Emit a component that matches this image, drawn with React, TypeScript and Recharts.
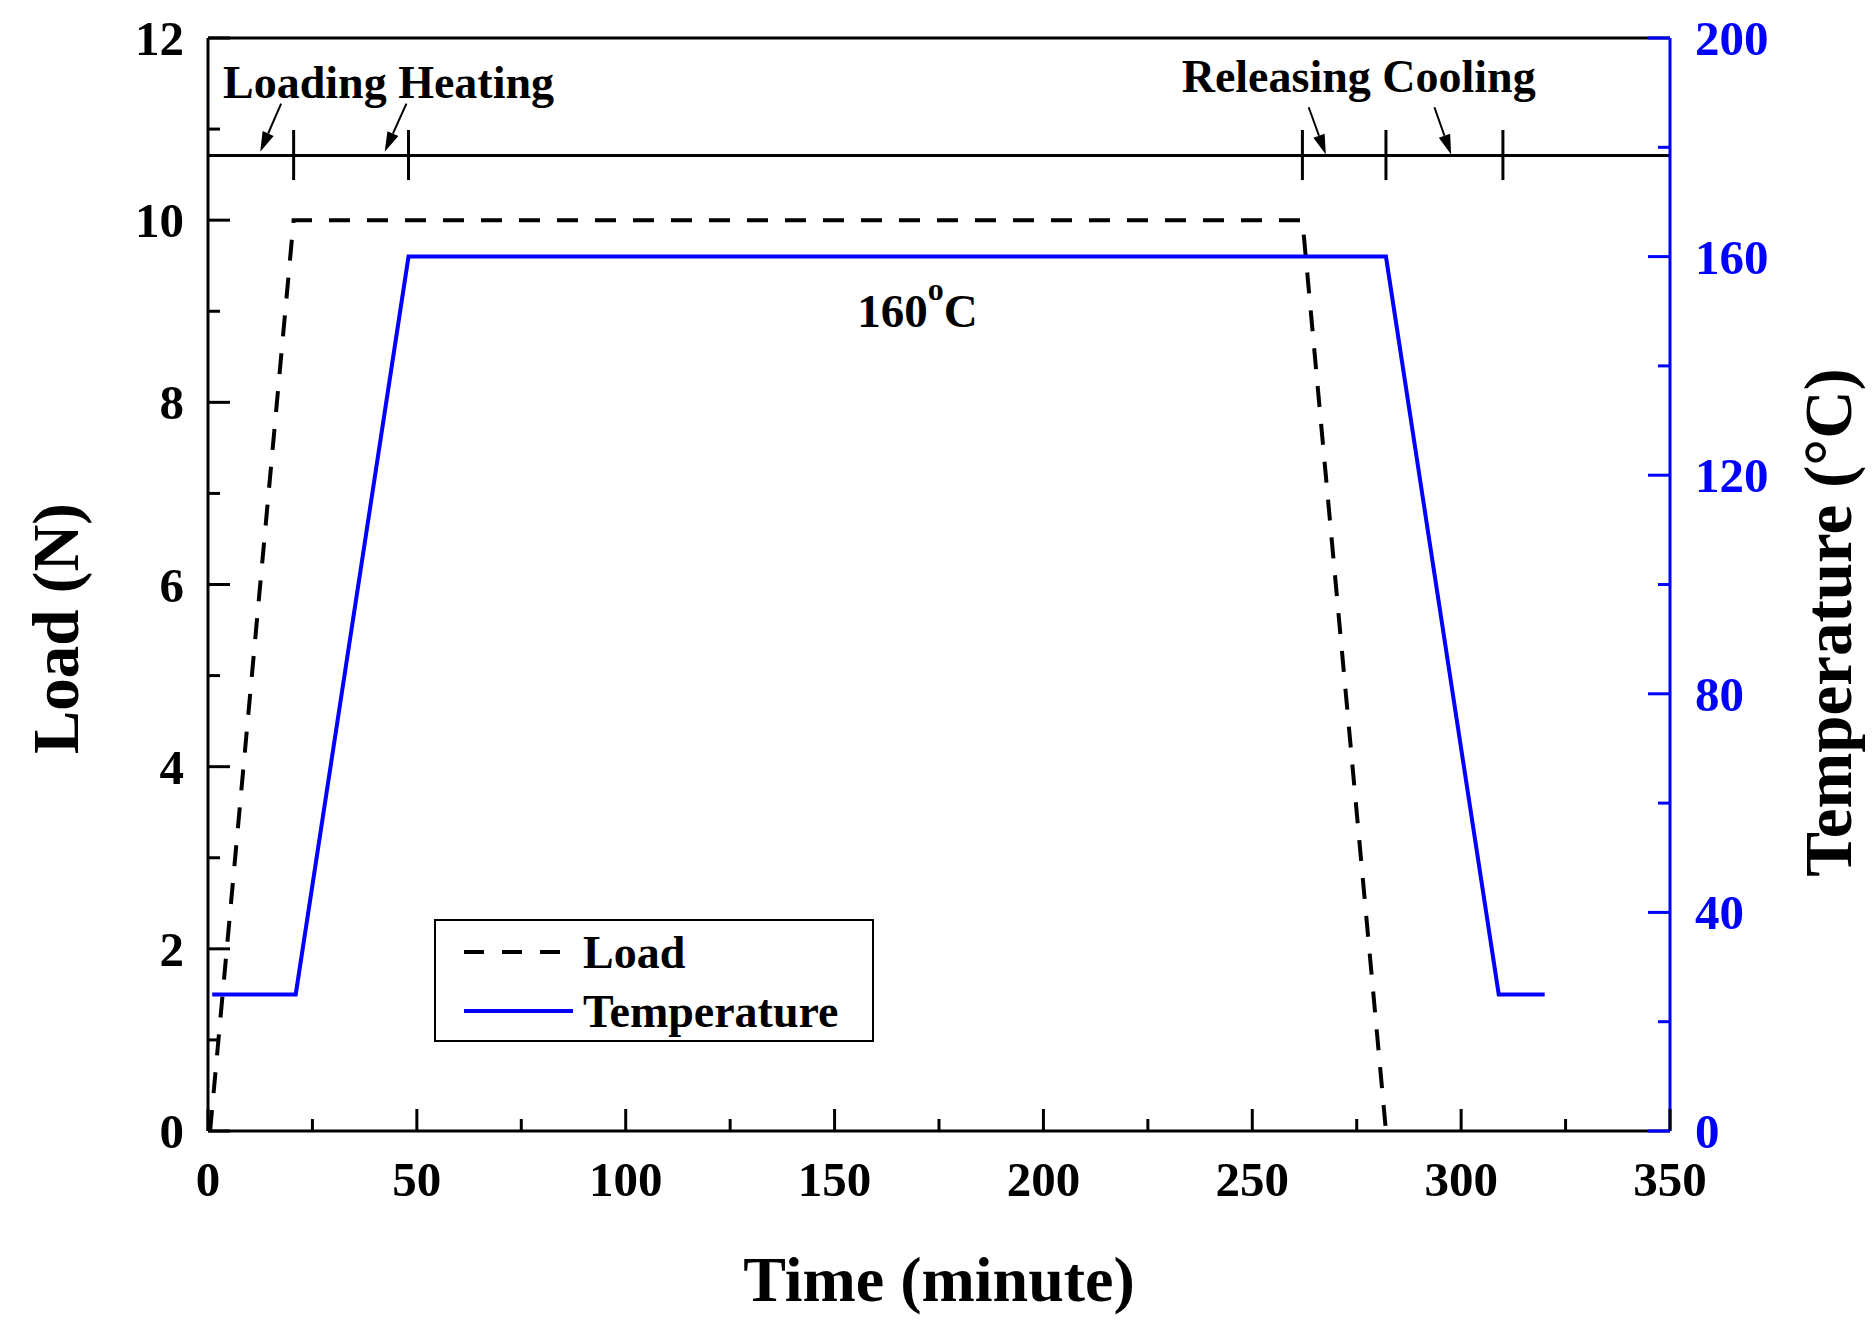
import React from 'react';
import { LineChart, Line, XAxis, YAxis, ReferenceLine, ReferenceDot, Legend } from 'recharts';

// ---- data ----
const loadTime = [0.5, 20.5, 262, 282];
const loadValue = [0, 10, 10, 0];
const tempTime = [1, 21, 48, 282, 309, 320];
const tempValue = [25, 25, 160, 160, 25, 25];

const xTicks = [0, 25, 50, 75, 100, 125, 150, 175, 200, 225, 250, 275, 300, 325, 350];
const loadTicks = [0, 1, 2, 3, 4, 5, 6, 7, 8, 9, 10, 11, 12];
const tempTicks = [0, 20, 40, 60, 80, 100, 120, 140, 160, 180, 200];

// stage marker line (drawn in Load units)
const stageLevel = 10.71;
const stageTimes = [20.5, 48, 262, 282, 310];
const stageTickLow = 10.44;
const stageTickHigh = 10.99;

// arrows (time, load units)
const arrowFromT = [17.5, 47.5, 263.5, 293.6];
const arrowFromV = [11.28, 11.28, 11.24, 11.24];
const arrowToT = [12.5, 42.3, 267.6, 297.6];
const arrowToV = [10.75, 10.75, 10.72, 10.72];

const stageLabels = ['Loading Heating', 'Releasing Cooling'];
const stageLabelT = [3.6, 233.1];
const stageLabelV = [11.34, 11.41];

const plateauLabelT = 155.4;
const plateauLabelV = 8.83;

const loadData = loadTime.map((t, i) => ({ t, v: loadValue[i] }));
const tempData = tempTime.map((t, i) => ({ t, v: tempValue[i] }));

const FONT = '"Liberation Serif", "Times New Roman", Times, serif';
const BLUE = '#0000ff';

const XTick = (props: any) => {
  const { x, y, payload } = props;
  const v = payload.value;
  const major = v % 50 === 0;
  return (
    <g>
      <line x1={x} y1={y} x2={x} y2={y - (major ? 22 : 12)} stroke="#000" strokeWidth={3} />
      {major && (
        <text x={x} y={y + 65} textAnchor="middle" fontFamily={FONT} fontWeight="bold" fontSize={49} fill="#000">
          {v}
        </text>
      )}
    </g>
  );
};

const LeftTick = (props: any) => {
  const { x, y, payload } = props;
  const v = payload.value;
  const major = v % 2 === 0;
  return (
    <g>
      <line x1={x} y1={y} x2={x + (major ? 22 : 12)} y2={y} stroke="#000" strokeWidth={3} />
      {major && (
        <text x={x - 24} y={y + 17} textAnchor="end" fontFamily={FONT} fontWeight="bold" fontSize={49} fill="#000">
          {v}
        </text>
      )}
    </g>
  );
};

const RightTick = (props: any) => {
  const { x, y, payload } = props;
  const v = payload.value;
  const major = v % 40 === 0;
  return (
    <g>
      <line x1={x} y1={y} x2={x - (major ? 22 : 12)} y2={y} stroke={BLUE} strokeWidth={3} />
      {major && (
        <text x={x + 25} y={y + 17} textAnchor="start" fontFamily={FONT} fontWeight="bold" fontSize={49} fill={BLUE}>
          {v}
        </text>
      )}
    </g>
  );
};

const ArrowShape = (p: any) => {
  const { x1, y1, x2, y2 } = p;
  const dx = x2 - x1;
  const dy = y2 - y1;
  const len = Math.sqrt(dx * dx + dy * dy) || 1;
  const ux = dx / len;
  const uy = dy / len;
  const headLen = 20;
  const headHalf = 6;
  const bx = x2 - ux * headLen;
  const by = y2 - uy * headLen;
  const px = -uy;
  const py = ux;
  return (
    <g>
      <line x1={x1} y1={y1} x2={bx} y2={by} stroke="#000" strokeWidth={2} />
      <polygon
        points={`${x2},${y2} ${bx + px * headHalf},${by + py * headHalf} ${bx - px * headHalf},${by - py * headHalf}`}
        fill="#000"
      />
    </g>
  );
};

const renderLegend = () => (
  <svg width={440} height={123} style={{ display: 'block' }}>
    <rect x={1} y={1} width={438} height={121} fill="#fff" stroke="#000" strokeWidth={2} />
    <line x1={30} y1={33} x2={126} y2={33} stroke="#000" strokeWidth={4} strokeDasharray="20 18" />
    <text x={149} y={49} fontFamily={FONT} fontWeight="bold" fontSize={46} fill="#000">Load</text>
    <line x1={30} y1={92} x2={139} y2={92} stroke={BLUE} strokeWidth={4} />
    <text x={149} y={108} fontFamily={FONT} fontWeight="bold" fontSize={46} fill="#000">Temperature</text>
  </svg>
);

const leftTitle = (props: any) => {
  const vb = props.viewBox || {};
  const ax = (vb.x || 0) + (vb.width || 0);
  const cy = (vb.y || 0) + (vb.height || 0) / 2 + 44;
  const bx = ax - 130;
  return (
    <text
      transform={`translate(${bx},${cy}) rotate(-90)`}
      textAnchor="middle"
      fontFamily={FONT}
      fontWeight="bold"
      fontSize={65}
      fill="#000"
    >
      Load (N)
    </text>
  );
};

const rightTitle = (props: any) => {
  const vb = props.viewBox || {};
  const ax = vb.x || 0;
  const cy = (vb.y || 0) + (vb.height || 0) / 2 + 38;
  const bx = ax + 181;
  return (
    <text
      transform={`translate(${bx},${cy}) rotate(-90)`}
      textAnchor="middle"
      fontFamily={FONT}
      fontWeight="bold"
      fontSize={67}
      fill="#000"
    >
      Temperature (°C)
    </text>
  );
};

const xTitle = (props: any) => {
  const vb = props.viewBox || {};
  const cx = (vb.x || 0) + (vb.width || 0) / 2;
  const y = (vb.y || 0) + 170;
  return (
    <text x={cx} y={y} textAnchor="middle" fontFamily={FONT} fontWeight="bold" fontSize={64} fill="#000">
      Time (minute)
    </text>
  );
};

export default function App() {
  return (
    <div style={{ position: 'absolute', left: 0, top: 0, width: 1875, height: 1320, background: '#fff' }}>
      <LineChart width={1875} height={1320} margin={{ top: 38, right: 105, bottom: 129, left: 108 }}>
        <XAxis
          type="number"
          dataKey="t"
          domain={[0, 350]}
          ticks={xTicks}
          interval={0}
          height={60}
          tickSize={0}
          tickMargin={0}
          tickLine={false}
          axisLine={{ stroke: '#000', strokeWidth: 3 }}
          tick={<XTick />}
          label={{ content: xTitle }}
        />
        <YAxis
          yAxisId="left"
          orientation="left"
          type="number"
          domain={[0, 12]}
          ticks={loadTicks}
          interval={0}
          width={100}
          tickSize={0}
          tickMargin={0}
          tickLine={false}
          axisLine={{ stroke: '#000', strokeWidth: 3 }}
          tick={<LeftTick />}
          label={{ content: leftTitle }}
        />
        <YAxis
          yAxisId="right"
          orientation="right"
          type="number"
          domain={[0, 200]}
          ticks={tempTicks}
          interval={0}
          width={100}
          tickSize={0}
          tickMargin={0}
          tickLine={false}
          axisLine={{ stroke: BLUE, strokeWidth: 3 }}
          tick={<RightTick />}
          label={{ content: rightTitle }}
        />
        <ReferenceLine yAxisId="left" y={12} stroke="#000" strokeWidth={3} />
        <ReferenceLine yAxisId="left" y={stageLevel} stroke="#000" strokeWidth={3} />
        {stageTimes.map((t) => (
          <ReferenceLine
            key={`st${t}`}
            yAxisId="left"
            segment={[{ x: t, y: stageTickLow }, { x: t, y: stageTickHigh }]}
            stroke="#000"
            strokeWidth={3}
          />
        ))}
        {arrowFromT.map((t, i) => (
          <ReferenceLine
            key={`ar${i}`}
            yAxisId="left"
            segment={[{ x: t, y: arrowFromV[i] }, { x: arrowToT[i], y: arrowToV[i] }]}
            shape={ArrowShape}
          />
        ))}
        {stageLabels.map((s, i) => (
          <ReferenceDot
            key={`sl${i}`}
            yAxisId="left"
            x={stageLabelT[i]}
            y={stageLabelV[i]}
            r={1}
            shape={(p: any) => (
              <text x={p.cx} y={p.cy} textAnchor="start" fontFamily={FONT} fontWeight="bold" fontSize={46} fill="#000">
                {s}
              </text>
            )}
          />
        ))}
        <ReferenceDot
          yAxisId="left"
          x={plateauLabelT}
          y={plateauLabelV}
          r={1}
          shape={(p: any) => (
            <text x={p.cx} y={p.cy} textAnchor="start" fontFamily={FONT} fontWeight="bold" fontSize={47} fill="#000">
              160
              <tspan dy={-27} fontSize={32}>o</tspan>
              <tspan dy={27}>C</tspan>
            </text>
          )}
        />
        <Line
          yAxisId="left"
          data={loadData}
          dataKey="v"
          type="linear"
          stroke="#000"
          strokeWidth={4}
          strokeDasharray="21 17"
          dot={false}
          activeDot={false}
          isAnimationActive={false}
        />
        <Line
          yAxisId="right"
          data={tempData}
          dataKey="v"
          type="linear"
          stroke={BLUE}
          strokeWidth={4}
          dot={false}
          activeDot={false}
          isAnimationActive={false}
        />
        <Legend
          layout="vertical"
          align="center"
          verticalAlign="middle"
          wrapperStyle={{ left: 434, top: 919, width: 440, height: 123 }}
          content={renderLegend}
        />
      </LineChart>
    </div>
  );
}
